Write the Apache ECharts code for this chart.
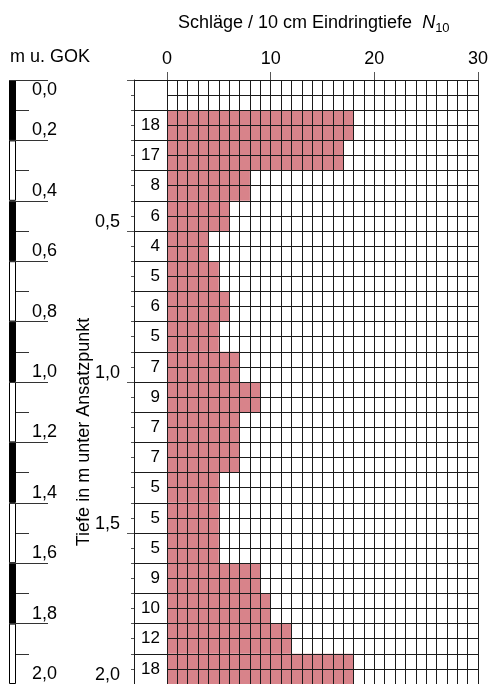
<!DOCTYPE html>
<html><head><meta charset="utf-8">
<script src="https://cdn.jsdelivr.net/npm/echarts@6/dist/echarts.min.js"></script>
<style>html,body{margin:0;padding:0;background:#fff}#c{width:491px;height:684px}</style>
</head><body><div id="c"></div>
<script>
// depth intervals (m below start point), 0.1 m each
const depthRows = ['0,0-0,1','0,1-0,2','0,2-0,3','0,3-0,4','0,4-0,5','0,5-0,6','0,6-0,7','0,7-0,8','0,8-0,9','0,9-1,0',
  '1,0-1,1','1,1-1,2','1,2-1,3','1,3-1,4','1,4-1,5','1,5-1,6','1,6-1,7','1,7-1,8','1,8-1,9','1,9-2,0'];
// blows per 10 cm penetration N10
const blows = [null,18,17,8,6,4,5,6,5,7,9,7,7,5,5,5,9,10,12,18];
// GOK scale: 0.2 m segments, alternating black / white
const gokSegments = ['0,0-0,2','0,2-0,4','0,4-0,6','0,6-0,8','0,8-1,0','1,0-1,2','1,2-1,4','1,4-1,6','1,6-1,8','1,8-2,0'];
const gokColors = ['#000','#fff','#000','#fff','#000','#fff','#000','#fff','#000','#fff'];
const xTickStep = 10;
const depthMax = 2.0;
const titleText = 'Schläge / 10 cm Eindringtiefe';
const gokTitle = 'm u. GOK';
const depthTitle = 'Tiefe in m unter Ansatzpunkt';

const FONT = '"Liberation Sans", Arial, sans-serif';
const LINE = '#1a1a1a';
const comma = v => (Math.round(v * 10) / 10).toFixed(1).replace('.', ',');

const chart = echarts.init(document.getElementById('c'), null, {renderer: 'canvas'});
chart.setOption({
  animation: false,
  backgroundColor: '#fff',
  textStyle: {fontFamily: FONT},
  title: {
    text: '{a|' + titleText + '  }{n|N}{s|10}',
    left: 173, top: 6,
    textStyle: {
      fontWeight: 'normal',
      rich: {
        a: {fontSize: 18, fontFamily: FONT, fontWeight: 'normal', color: '#000'},
        n: {fontSize: 18, fontFamily: FONT, fontWeight: 'normal', fontStyle: 'italic', color: '#000'},
        s: {fontSize: 13, fontFamily: FONT, fontWeight: 'normal', color: '#000', padding: [11, 0, 0, 0]}
      }
    }
  },
  grid: [
    {left: 167, top: 80, width: 314, height: 604},
    {left: 134, top: 80, width: 33, height: 604},
    {left: 9, top: 80, width: 7, height: 604}
  ],
  xAxis: [
    {gridIndex: 0, type: 'value', position: 'top', min: 0, max: 30, interval: xTickStep, z: 5,
      axisLine: {show: true, lineStyle: {color: LINE, width: 1}},
      axisTick: {show: true, length: 8, lineStyle: {color: '#555', width: 1}},
      axisLabel: {show: true, fontSize: 18, color: '#000', margin: 12, fontFamily: FONT},
      splitLine: {show: true, lineStyle: {color: LINE, width: 1}},
      minorTick: {show: false, splitNumber: 10},
      minorSplitLine: {show: true, lineStyle: {color: LINE, width: 1}}
    },
    {gridIndex: 1, type: 'value', position: 'top', min: 0, max: 1, z: 5,
      axisLine: {show: true, lineStyle: {color: LINE, width: 1}},
      axisTick: {show: false}, axisLabel: {show: false}, splitLine: {show: false}
    },
    {gridIndex: 2, type: 'value', min: 0, max: 1, show: false}
  ],
  yAxis: [
    {gridIndex: 0, type: 'category', data: depthRows, inverse: true, z: 5,
      axisLine: {show: false}, axisTick: {show: false}, splitLine: {show: false},
      axisLabel: {show: true, fontSize: 17, color: '#000', margin: 7, fontFamily: FONT,
        formatter: (v, i) => blows[i] == null ? '' : String(blows[i])}
    },
    {gridIndex: 0, type: 'value', min: 0, max: depthMax, interval: 0.05, inverse: true, z: 5, position: 'left',
      axisLine: {show: false}, axisTick: {show: false}, axisLabel: {show: false},
      splitLine: {show: true, lineStyle: {color: LINE, width: 1}}
    },
    {gridIndex: 1, type: 'value', min: 0, max: depthMax, interval: 0.1, inverse: true, z: 5, position: 'right',
      axisLine: {show: false}, axisTick: {show: false}, axisLabel: {show: false},
      splitLine: {show: true, lineStyle: {color: LINE, width: 1}}
    },
    {gridIndex: 1, type: 'value', min: 0, max: depthMax, interval: 0.5, inverse: true, z: 5, position: 'left',
      axisLine: {show: true, lineStyle: {color: LINE, width: 1}},
      axisTick: {show: true, length: 7, lineStyle: {color: '#555', width: 1}},
      minorTick: {show: true, splitNumber: 10, length: 3, lineStyle: {color: '#555', width: 1}},
      axisLabel: {show: true, fontSize: 18, color: '#000', margin: 14, fontFamily: FONT, verticalAlign: 'bottom',
        formatter: v => v === 0 ? '' : comma(v)},
      splitLine: {show: false}
    },
    {gridIndex: 2, type: 'value', min: 0, max: depthMax, interval: 0.2, inverse: true, position: 'right', z: 5,
      axisLine: {show: false},
      axisTick: {show: true, length: 39, lineStyle: {color: '#333', width: 1}},
      axisLabel: {show: true, margin: 16, verticalAlign: 'middle', align: 'left',
        formatter: v => v === 0 ? '{d|' + comma(v) + '}' : '{u|' + comma(v) + '}',
        rich: {
          d: {fontSize: 18, fontFamily: FONT, color: '#000', padding: [20, 0, 0, 0]},
          u: {fontSize: 18, fontFamily: FONT, color: '#000', padding: [0, 0, 20, 0]}
        }
      },
      splitLine: {show: false}
    },
    {gridIndex: 2, type: 'category', data: gokSegments, inverse: true, show: false},
    {gridIndex: 2, type: 'value', min: 0, max: depthMax, interval: 0.1, inverse: true, position: 'right', z: 4,
      axisLine: {show: false}, axisLabel: {show: false}, splitLine: {show: false},
      axisTick: {show: true, length: 13, lineStyle: {color: '#333', width: 1}}
    }
  ],
  graphic: [
    {type: 'text', left: 10, top: 48, style: {text: gokTitle, fontSize: 18, fontFamily: FONT, fill: '#000'}},
    {type: 'text', x: 84, y: 432, rotation: Math.PI / 2,
      style: {text: depthTitle, fontSize: 18, fontFamily: FONT, fill: '#000', align: 'center', verticalAlign: 'middle'}}
  ],
  series: [
    {type: 'bar', xAxisIndex: 0, yAxisIndex: 0, data: blows, barCategoryGap: '0%', z: 2,
      itemStyle: {color: '#d8838a'}, silent: true},
    {type: 'bar', xAxisIndex: 2, yAxisIndex: 5, barCategoryGap: '0%', z: 2, silent: true,
      data: gokSegments.map((s, i) => ({value: 1, itemStyle: {color: gokColors[i]}})),
      itemStyle: {borderColor: '#000', borderWidth: 1}}
  ]
});
</script></body></html>
